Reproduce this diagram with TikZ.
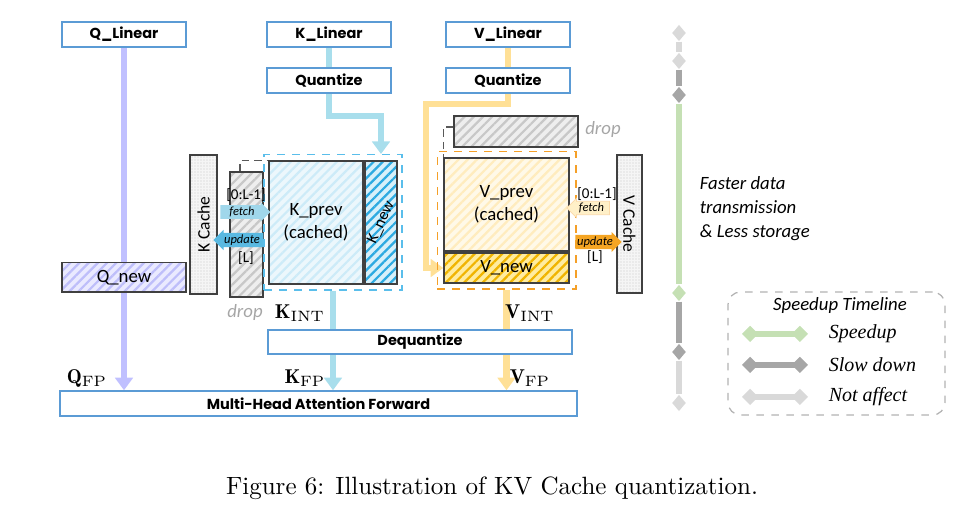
\documentclass[tikz,border=0pt]{standalone}
\usepackage{fontspec}
\newfontfamily\calfont{Carlito}
\newfontfamily\boxfont{Poppins}
\newfontfamily\timesfont{Liberation Serif}
\usetikzlibrary{arrows.meta,positioning,shapes.geometric,shapes.arrows,patterns.meta,fit,backgrounds}

\definecolor{boxblue}{RGB}{91,155,213}
\definecolor{cellgray}{RGB}{64,64,64}
\definecolor{qcol}{RGB}{192,192,255}
\definecolor{kcol}{RGB}{168,222,236}
\definecolor{vcol}{RGB}{255,224,150}
\definecolor{kdash}{RGB}{90,190,235}
\definecolor{vdash}{RGB}{245,160,40}
\definecolor{kprevfill}{RGB}{236,247,252}
\definecolor{kprevline}{RGB}{205,235,248}
\definecolor{knewfill}{RGB}{215,240,250}
\definecolor{knewline}{RGB}{45,170,225}
\definecolor{vprevfill}{RGB}{255,249,232}
\definecolor{vprevline}{RGB}{255,236,190}
\definecolor{vnewfill}{RGB}{255,236,160}
\definecolor{vnewline}{RGB}{240,180,0}
\definecolor{qnewfill}{RGB}{234,234,255}
\definecolor{qnewline}{RGB}{190,190,250}
\definecolor{dropfill}{RGB}{238,238,238}
\definecolor{dropstripe}{RGB}{200,200,200}
\definecolor{kfetch}{RGB}{160,215,235}
\definecolor{kupdate}{RGB}{90,185,225}
\definecolor{vfetch}{RGB}{255,240,200}
\definecolor{vupdate}{RGB}{245,165,35}
\definecolor{tgreen}{RGB}{197,224,180}
\definecolor{tdark}{RGB}{166,166,166}
\definecolor{tlight}{RGB}{217,217,217}

\begin{document}
\begin{tikzpicture}[
    x=0.4pt, y=-0.4pt,
    opbox/.style={rectangle, draw=boxblue, line width=0.6pt, fill=white, minimum width=49.6pt, minimum height=10pt, inner sep=0pt, font=\boxfont\bfseries\fontsize{5.8}{6}\selectfont},
    cell/.style={rectangle, draw=cellgray, line width=0.6pt, inner sep=0pt, align=center, font=\calfont\fontsize{7.5}{9}\selectfont},
    hatch/.style 2 args={preaction={fill=#1}, preaction={pattern={Lines[angle=45,distance=2.6pt,line width=0.9pt]}, pattern color=#2}},
    cachebox/.style={cell, preaction={fill=gray!8}, preaction={pattern={Dots[distance=1.2pt,radius=0.25pt]}, pattern color=gray!45}, font=\calfont\fontsize{7}{8}\selectfont},
    dashbox/.style={rectangle, dashed, line width=0.6pt, inner xsep=1.6pt, inner ysep=2.2pt},
    dropline/.style={densely dashed, gray!70!black, line width=0.5pt},
    droptext/.style={font=\calfont\itshape\fontsize{7.5}{8}\selectfont, text=gray!70},
    rw/.style={single arrow, single arrow head extend=1.2pt, minimum width=7pt, inner sep=0.5pt, font=\calfont\itshape\fontsize{5}{5}\selectfont},
    idx/.style={font=\calfont\fontsize{6}{7}\selectfont},
    mlabel/.style={font=\fontsize{8}{9}\selectfont},
    flow/.style={line width=2.6pt, -{Triangle[length=5pt,width=7pt]}},
    flowplain/.style={line width=2.6pt},
    tdia/.style={diamond, minimum width=5.6pt, minimum height=6.6pt, inner sep=0pt},
    tline/.style={line width=2.6pt},
    legline/.style={line width=2.6pt, {Diamond[length=6.5pt,width=6.5pt]}-{Diamond[length=6.5pt,width=6.5pt]}},
    legtext/.style={font=\timesfont\itshape\fontsize{8}{9}\selectfont, anchor=west}
]
\useasboundingbox (0,0) rectangle (969,517);

% Linear layers and quantizers
\node[opbox] (qlin) at (124,34.5) {Q\_Linear};
\node[opbox] (klin) at (329,34.5) {K\_Linear};
\node[opbox] (kquant) at (329,80.5) {Quantize};
\node[opbox] (vlin) at (508,34.5) {V\_Linear};
\node[opbox] (vquant) at (508,80.5) {Quantize};

% Query
\node[cell, hatch={qnewfill}{qnewline}, minimum width=49.6pt, minimum height=11.8pt] (qnew) at (124,277.5) {Q\_new};

% Key side
\node[cachebox, rotate=90, minimum width=55.6pt, minimum height=10.8pt] (kcache) at (203.5,224.5) {K Cache};
\node[cell, hatch={dropfill}{dropstripe}, minimum width=13.2pt, minimum height=50pt] (kdrop) at (246.5,234.5) {};
\node[cell, hatch={kprevfill}{kprevline}, minimum width=37.6pt, minimum height=49.2pt] (kprev) at (316,222.5) {K\_prev\\(cached)};
\node[cell, hatch={knewfill}{knewline}, minimum width=12.8pt, minimum height=49.2pt] (knew) at (381,222.5) {};
\node[font=\calfont\fontsize{6.5}{7}\selectfont, rotate=65, inner sep=0pt] (knewtxt) at (knew) {K\_new};
\node[dashbox, draw=kdash, fit=(kprev)(knew)] (kbox) {};
\node[rw, fill=kfetch, minimum height=20pt] (kfetch) at (242,212) {fetch};
\node[rw, fill=kupdate, minimum height=20pt, shape border rotate=180] (kupdate) at (242,240) {update};
\node[idx] (kread) at (246,195) {[0:L-1]};
\node[idx] (kwrite) at (246,258) {[L]};
\node[droptext] (kdroptxt) at (245,313) {drop};
\draw[dropline] ([xshift=-2.6pt]kdrop.north) |- (kprev.north west);

% Value side
\node[cell, hatch={dropfill}{dropstripe}, minimum width=49.6pt, minimum height=12.4pt] (vdrop) at (516,131.5) {};
\node[droptext] (vdroptxt) at (603,130) {drop};
\node[cell, hatch={vprevfill}{vprevline}, minimum width=50pt, minimum height=37.2pt] (vprev) at (506.5,204.5) {V\_prev\\(cached)};
\node[cell, hatch={vnewfill}{vnewline}, minimum width=50pt, minimum height=12pt] (vnew) at (506.5,268) {V\_new};
\node[dashbox, draw=vdash, inner xsep=2.4pt, fit=(vprev)(vnew)] (vbox) {};
\node[cachebox, rotate=-90, minimum width=55.2pt, minimum height=10pt] (vcache) at (629.5,224) {V Cache};
\node[rw, fill=vfetch, draw=vdash!40, line width=0.3pt, minimum height=17pt, shape border rotate=180] (vfetch) at (591.5,208) {fetch};
\node[rw, fill=vupdate, minimum height=17.6pt] (vupdate) at (595,242) {update};
\node[idx] (vread) at (597,194) {[0:L-1]};
\node[idx] (vwrite) at (595,257) {[L]};
\draw[dropline] ([yshift=1.8pt]vdrop.west) -| (vprev.north west);

% Dequantize and attention
\node[opbox, minimum width=121.6pt, minimum height=9.6pt] (deq) at (420,342) {Dequantize};
\node[opbox, minimum width=206.8pt] (mha) at (318.5,403.5) {Multi-Head Attention Forward};

\node[mlabel] (kint) at (300,313) {$\mathbf{K}_{\mathrm{INT}}$};
\node[mlabel] (vint) at (530,313) {$\mathbf{V}_{\mathrm{INT}}$};
\node[mlabel] (qfp) at (87,378) {$\mathbf{Q}_{\mathrm{FP}}$};
\node[mlabel] (kfp) at (305,378) {$\mathbf{K}_{\mathrm{FP}}$};
\node[mlabel] (vfp) at (530,378) {$\mathbf{V}_{\mathrm{FP}}$};

\coordinate (kbend) at (381,116);
\coordinate (vbend) at (426,104);

% Data flow, behind the boxes
\begin{scope}[on background layer]
\draw[flow, qcol] (qlin.south) -- (qlin.south |- mha.north);
\draw[flowplain, kcol] (klin.south) -- (kquant.north);
\draw[flow, kcol] (kquant.south) |- (kbend) -- (kbend |- kbox.north);
\draw[flowplain, kcol] (kbox.south) -- (kbox.south |- deq.north);
\draw[flow, kcol] (kbox.south |- deq.south) -- (kbox.south |- mha.north);
\draw[flowplain, vcol] (vlin.south) -- (vquant.north);
\draw[flow, vcol] (vquant.south) |- (vbend) |- (vnew.west);
\draw[flowplain, vcol] (vbox.south) -- (vbox.south |- deq.north);
\draw[flow, vcol] (vbox.south |- deq.south) -- (vbox.south |- mha.north);
\end{scope}

% Speedup timeline
\node[tdia, fill=tlight] (t1) at (679,33) {};
\node[tdia, fill=tlight] (t2) at (679,61) {};
\node[tdia, fill=tdark] (t3) at (679,95) {};
\node[tdia, fill=tgreen] (t4) at (679,293) {};
\node[tdia, fill=tdark] (t5) at (679,352) {};
\node[tdia, fill=tlight] (t6) at (679,403) {};
\begin{scope}[on background layer]
\foreach \a/\b/\c in {t1/t2/tlight, t2/t3/tdark, t3/t4/tgreen, t4/t5/tdark, t5/t6/tlight}
    \draw[tline, \c] (\a) -- (\b);
\end{scope}
\node[font=\calfont\itshape\fontsize{7.5}{9.6}\selectfont, align=left, anchor=west] (gain) at (691,209) {Faster data\\transmission\\\& Less storage};

% Legend
\node[draw=gray!60, dashed, rounded corners=5pt, line width=0.5pt, minimum width=86.8pt, minimum height=49.2pt] (legend) at (836.5,353.5) {};
\node[font=\calfont\itshape\fontsize{7.5}{8}\selectfont] (legtitle) at (840,306) {Speedup Timeline};
\coordinate (s1) at (742,334); \coordinate (e1) at (808,334);
\coordinate (s2) at (742,365); \coordinate (e2) at (808,365);
\coordinate (s3) at (742,397); \coordinate (e3) at (808,397);
\draw[legline, tgreen] (s1) -- (e1);
\draw[legline, tdark] (s2) -- (e2);
\draw[legline, tlight] (s3) -- (e3);
\node[legtext] (leg1) at (820,334) {Speedup};
\node[legtext] (leg2) at (820,365) {Slow down};
\node[legtext] (leg3) at (820,397) {Not affect};

% Caption
\node[font=\fontsize{10}{12}\selectfont] (caption) at (492,488) {Figure 6: Illustration of KV Cache quantization.};

\end{tikzpicture}
\end{document}
